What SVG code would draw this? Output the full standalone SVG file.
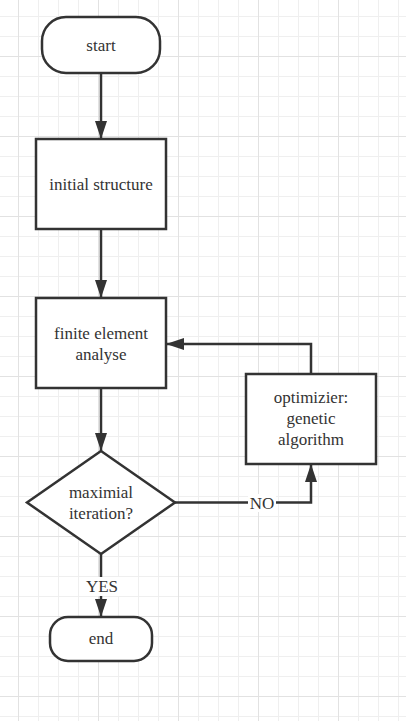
<svg xmlns="http://www.w3.org/2000/svg" width="406" height="721" viewBox="0 0 406 721">
<defs>
<pattern id="minor" x="18" y="16" width="20" height="20" patternUnits="userSpaceOnUse">
<path d="M0.5 0V20M0 0.5H20" fill="none" stroke="#efefef" stroke-width="1"/>
</pattern>
<pattern id="major" x="18" y="-24" width="80" height="80" patternUnits="userSpaceOnUse">
<path d="M0.5 0V80M0 0.5H80" fill="none" stroke="#e2e2e2" stroke-width="1"/>
</pattern>
<marker id="arr" viewBox="0 0 18 12" refX="18" refY="6" markerWidth="18" markerHeight="12" markerUnits="userSpaceOnUse" orient="auto">
<path d="M0 0L18 6L0 12Z" fill="#333"/>
</marker>
</defs>
<style>
.s{fill:#fff;stroke:#333;stroke-width:2.5}
.c{fill:none;stroke:#333;stroke-width:2.5}
text{font-family:"Liberation Serif","Times New Roman",serif;font-size:17px;fill:#333;text-anchor:middle;dominant-baseline:central}
.lbl{fill:#fff;stroke:none}
</style>
<rect width="406" height="721" fill="#fff"/>
<rect width="406" height="721" fill="url(#minor)"/>
<rect width="406" height="721" fill="url(#major)"/>
<g id="connectors">
<path class="c" d="M101 73V139" marker-end="url(#arr)"/>
<path class="c" d="M101 229V298" marker-end="url(#arr)"/>
<path class="c" d="M101 388V451" marker-end="url(#arr)"/>
<path class="c" d="M101 554V617" marker-end="url(#arr)"/>
<path class="c" d="M175 502.5H311V464" marker-end="url(#arr)"/>
<path class="c" d="M311 374V344H166" marker-end="url(#arr)"/>
<rect class="lbl" x="84" y="577" width="36" height="19"/>
<text x="102" y="586">YES</text>
<rect class="lbl" x="248" y="494" width="28" height="18"/>
<text x="262" y="503">NO</text>
</g>
<g id="start">
<rect class="s" x="42" y="17" width="118" height="56" rx="24"/>
<text x="101" y="45">start</text>
</g>
<g id="initial">
<rect class="s" x="36" y="139" width="130" height="90"/>
<text x="101" y="184">initial structure</text>
</g>
<g id="fea">
<rect class="s" x="36" y="298" width="130" height="90"/>
<text x="101" y="333">finite element</text>
<text x="101" y="354">analyse</text>
</g>
<g id="optimizer">
<rect class="s" x="246" y="374" width="130" height="90"/>
<text x="311" y="397">optimizier:</text>
<text x="311" y="418">genetic</text>
<text x="311" y="439">algorithm</text>
</g>
<g id="decision">
<path class="s" d="M101 451L175 502.5L101 554L27 502.5Z"/>
<text x="101" y="492">maximial</text>
<text x="101" y="513">iteration?</text>
</g>
<g id="end">
<rect class="s" x="50" y="617" width="102" height="44" rx="18"/>
<text x="101" y="638">end</text>
</g>
</svg>
